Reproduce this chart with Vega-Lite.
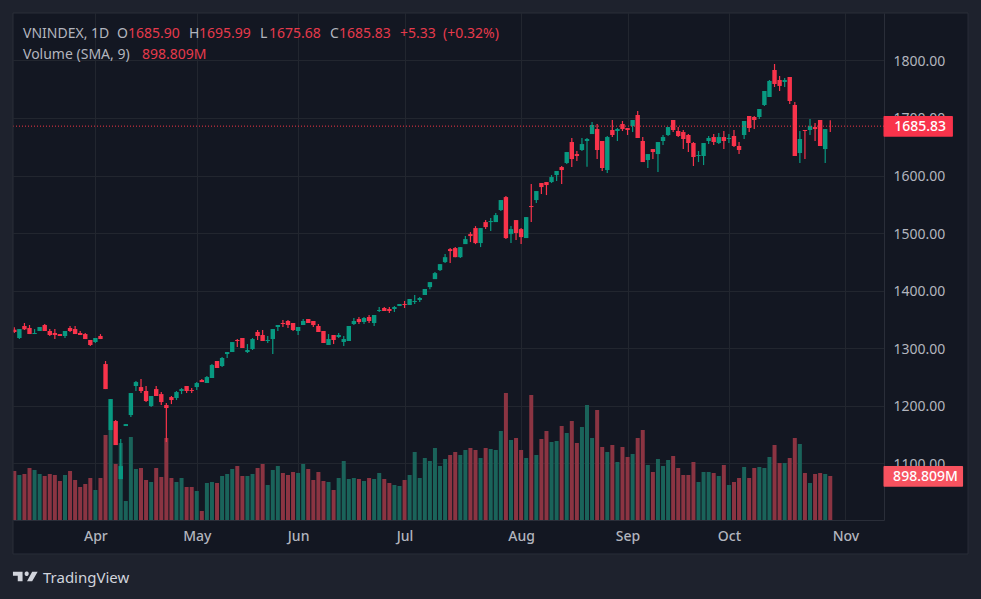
{"$schema":"https://vega.github.io/schema/vega-lite/v6.json","description":"VNINDEX daily candles with volume, TradingView style.","autosize":{"type":"none"},"padding":{"left":13,"top":13,"right":97,"bottom":79},"width":871,"height":507,"background":"#131722","config":{"view":{"stroke":null},"font":"Noto Sans","axis":{"labelFont":"Noto Sans","labelFontSize":14,"labelColor":"#b2b5be","gridColor":"#22262f","domainColor":"#2a2e39","ticks":false}},
"datasets":{"bars":[
{"i":0,"o":1331.9,"h":1335.9,"l":1326.1,"c":1327.8,"v":1029},{"i":1,"o":1317.4,"h":1333,"l":1315.6,"c":1333,"v":945},{"i":2,"o":1338.3,"h":1343.5,"l":1331.3,"c":1332.5,"v":966},{"i":3,"o":1334.8,"h":1340,"l":1324.3,"c":1324.3,"v":1092},{"i":4,"o":1324.3,"h":1333,"l":1324.3,"c":1326.1,"v":1050},{"i":5,"o":1329.6,"h":1336.5,"l":1329.6,"c":1336.5,"v":966},{"i":6,"o":1340,"h":1341.7,"l":1329.6,"c":1329.6,"v":924},{"i":7,"o":1329.6,"h":1333,"l":1320.9,"c":1322.6,"v":966},{"i":8,"o":1326.1,"h":1333,"l":1315.6,"c":1322.6,"v":945},{"i":9,"o":1324.3,"h":1324.3,"l":1320.9,"c":1320.9,"v":819},
{"i":10,"o":1320.9,"h":1329.6,"l":1317.4,"c":1329.6,"v":945},{"i":11,"o":1334.8,"h":1338.3,"l":1327.8,"c":1329.6,"v":1029},{"i":12,"o":1333,"h":1338.3,"l":1324.3,"c":1324.3,"v":840},{"i":13,"o":1326.1,"h":1329.6,"l":1322.6,"c":1322.6,"v":693},{"i":14,"o":1324.3,"h":1326.1,"l":1315.6,"c":1315.6,"v":756},{"i":15,"o":1313.9,"h":1313.9,"l":1303.5,"c":1305.2,"v":882},{"i":16,"o":1310.4,"h":1317.4,"l":1308.7,"c":1317.4,"v":630},{"i":17,"o":1320.9,"h":1324.3,"l":1315.6,"c":1315.6,"v":882},{"i":18,"o":1272.1,"h":1277.4,"l":1228.6,"c":1228.6,"v":1785},{"i":19,"o":1157.3,"h":1211.2,"l":1157.3,"c":1211.2,"v":1890},
{"i":20,"o":1173,"h":1174.7,"l":1131.2,"c":1131.2,"v":1176},{"i":21,"o":1072,"h":1141.6,"l":1072,"c":1094.7,"v":1617},{"i":22,"o":1164.3,"h":1167.7,"l":1164.3,"c":1167.7,"v":399},{"i":23,"o":1183.4,"h":1221.7,"l":1179.9,"c":1221.7,"v":1743},{"i":24,"o":1233.9,"h":1242.6,"l":1225.2,"c":1240.8,"v":1071},{"i":25,"o":1232.1,"h":1246,"l":1221.7,"c":1225.2,"v":1092},{"i":26,"o":1225.2,"h":1233.9,"l":1206,"c":1207.8,"v":840},{"i":27,"o":1199.1,"h":1216.5,"l":1197.3,"c":1216.5,"v":798},{"i":28,"o":1228.6,"h":1233.9,"l":1216.5,"c":1216.5,"v":1092},{"i":29,"o":1219.9,"h":1223.4,"l":1200.8,"c":1206,"v":903},
{"i":30,"o":1200.8,"h":1204.3,"l":1136.4,"c":1195.6,"v":1722},{"i":31,"o":1214.7,"h":1216.5,"l":1202.5,"c":1209.5,"v":882},{"i":32,"o":1213,"h":1225.2,"l":1209.5,"c":1223.4,"v":798},{"i":33,"o":1225.2,"h":1230.4,"l":1219.9,"c":1228.6,"v":882},{"i":34,"o":1233.9,"h":1233.9,"l":1221.7,"c":1225.2,"v":693},{"i":35,"o":1226.9,"h":1230.4,"l":1221.7,"c":1225.2,"v":693},{"i":36,"o":1232.1,"h":1240.8,"l":1226.9,"c":1239.1,"v":609},{"i":37,"o":1244.3,"h":1246,"l":1240.8,"c":1240.8,"v":189},{"i":38,"o":1239.1,"h":1251.3,"l":1239.1,"c":1249.5,"v":777},{"i":39,"o":1247.8,"h":1272.1,"l":1247.8,"c":1270.4,"v":798},
{"i":40,"o":1277.4,"h":1277.4,"l":1265.2,"c":1265.2,"v":777},{"i":41,"o":1268.7,"h":1284.3,"l":1266.9,"c":1282.6,"v":924},{"i":42,"o":1289.5,"h":1293,"l":1282.6,"c":1293,"v":966},{"i":43,"o":1293,"h":1310.4,"l":1293,"c":1310.4,"v":1071},{"i":44,"o":1313.9,"h":1315.6,"l":1301.7,"c":1312.2,"v":1134},{"i":45,"o":1317.4,"h":1317.4,"l":1300,"c":1300,"v":924},{"i":46,"o":1293,"h":1306.9,"l":1291.3,"c":1296.5,"v":924},{"i":47,"o":1298.2,"h":1317.4,"l":1296.5,"c":1315.6,"v":966},{"i":48,"o":1327.8,"h":1331.3,"l":1313.9,"c":1320.9,"v":1092},{"i":49,"o":1322.6,"h":1331.3,"l":1312.2,"c":1312.2,"v":1176},
{"i":50,"o":1312.2,"h":1320.9,"l":1308.7,"c":1313.9,"v":735},{"i":51,"o":1315.6,"h":1333,"l":1289.5,"c":1333,"v":1050},{"i":52,"o":1336.5,"h":1340,"l":1329.6,"c":1340,"v":1134},{"i":53,"o":1343.5,"h":1348.7,"l":1336.5,"c":1341.7,"v":987},{"i":54,"o":1347,"h":1348.7,"l":1334.8,"c":1340,"v":945},{"i":55,"o":1343.5,"h":1343.5,"l":1329.6,"c":1331.3,"v":1008},{"i":56,"o":1329.6,"h":1336.5,"l":1322.6,"c":1336.5,"v":987},{"i":57,"o":1340,"h":1350.4,"l":1340,"c":1347,"v":1176},{"i":58,"o":1350.4,"h":1350.4,"l":1343.5,"c":1343.5,"v":1071},{"i":59,"o":1347,"h":1347,"l":1336.5,"c":1340,"v":840},
{"i":60,"o":1338.3,"h":1341.7,"l":1327.8,"c":1327.8,"v":1008},{"i":61,"o":1329.6,"h":1329.6,"l":1308.7,"c":1308.7,"v":819},{"i":62,"o":1305.2,"h":1324.3,"l":1305.2,"c":1315.6,"v":798},{"i":63,"o":1322.6,"h":1322.6,"l":1306.9,"c":1313.9,"v":630},{"i":64,"o":1319.1,"h":1326.1,"l":1317.4,"c":1322.6,"v":882},{"i":65,"o":1310.4,"h":1320.9,"l":1303.5,"c":1315.6,"v":1239},{"i":66,"o":1312.2,"h":1338.3,"l":1312.2,"c":1338.3,"v":861},{"i":67,"o":1341.7,"h":1352.2,"l":1340,"c":1347,"v":882},{"i":68,"o":1350.4,"h":1353.9,"l":1341.7,"c":1345.2,"v":861},{"i":69,"o":1345.2,"h":1353.9,"l":1341.7,"c":1352.2,"v":819},
{"i":70,"o":1353.9,"h":1357.4,"l":1343.5,"c":1347,"v":882},{"i":71,"o":1343.5,"h":1357.4,"l":1338.3,"c":1357.4,"v":861},{"i":72,"o":1364.4,"h":1371.3,"l":1362.6,"c":1366.1,"v":987},{"i":73,"o":1369.6,"h":1371.3,"l":1364.4,"c":1364.4,"v":861},{"i":74,"o":1367.8,"h":1371.3,"l":1360.9,"c":1364.4,"v":777},{"i":75,"o":1367.8,"h":1373,"l":1362.6,"c":1371.3,"v":735},{"i":76,"o":1373,"h":1376.5,"l":1373,"c":1376.5,"v":714},{"i":77,"o":1376.5,"h":1381.8,"l":1369.6,"c":1374.8,"v":840},{"i":78,"o":1374.8,"h":1385.2,"l":1374.8,"c":1385.2,"v":945},{"i":79,"o":1380,"h":1392.2,"l":1376.5,"c":1381.8,"v":1428},
{"i":80,"o":1383.5,"h":1388.7,"l":1380,"c":1387,"v":882},{"i":81,"o":1392.2,"h":1402.6,"l":1392.2,"c":1402.6,"v":1302},{"i":82,"o":1405.9,"h":1414.6,"l":1402.4,"c":1414.6,"v":1239},{"i":83,"o":1419.8,"h":1432,"l":1419.8,"c":1430.3,"v":1512},{"i":84,"o":1435.5,"h":1445.9,"l":1433.8,"c":1445.9,"v":1134},{"i":85,"o":1449.4,"h":1463.3,"l":1447.7,"c":1458,"v":1281},{"i":86,"o":1472,"h":1473.8,"l":1447.7,"c":1468.6,"v":1365},{"i":87,"o":1473.8,"h":1475.5,"l":1458,"c":1458,"v":1428},{"i":88,"o":1458,"h":1475.5,"l":1456.4,"c":1475.5,"v":1365},{"i":89,"o":1480.7,"h":1494.7,"l":1480.7,"c":1489.4,"v":1470},
{"i":90,"o":1498.1,"h":1501.6,"l":1484.2,"c":1494.7,"v":1512},{"i":91,"o":1508.6,"h":1512,"l":1480.7,"c":1482.5,"v":1470},{"i":92,"o":1482.5,"h":1508.6,"l":1475.5,"c":1508.6,"v":1302},{"i":93,"o":1519,"h":1522.5,"l":1506.8,"c":1510.3,"v":1512},{"i":94,"o":1519,"h":1526,"l":1503.4,"c":1520.8,"v":1491},{"i":95,"o":1519,"h":1534.7,"l":1519,"c":1531.2,"v":1470},{"i":96,"o":1539.9,"h":1557.3,"l":1538.2,"c":1557.3,"v":1869},{"i":97,"o":1562.5,"h":1564.3,"l":1489.4,"c":1491.2,"v":2667},{"i":98,"o":1498.1,"h":1512,"l":1482.5,"c":1506.8,"v":1680},{"i":99,"o":1522.5,"h":1522.5,"l":1487.7,"c":1499.9,"v":1722},
{"i":100,"o":1506.8,"h":1508.6,"l":1480.7,"c":1492.9,"v":1470},{"i":101,"o":1491.2,"h":1527.7,"l":1491.2,"c":1527.7,"v":1302},{"i":102,"o":1546.9,"h":1585.1,"l":1519,"c":1545.1,"v":2625},{"i":103,"o":1557.3,"h":1573,"l":1552.1,"c":1573,"v":1365},{"i":104,"o":1586.9,"h":1586.9,"l":1567.8,"c":1579.9,"v":1701},{"i":105,"o":1588.6,"h":1588.6,"l":1566,"c":1583.4,"v":1869},{"i":106,"o":1588.6,"h":1600.8,"l":1586.9,"c":1597.3,"v":1638},{"i":107,"o":1600.8,"h":1607.8,"l":1590.4,"c":1607.8,"v":1659},{"i":108,"o":1614.7,"h":1616.5,"l":1585.1,"c":1609.5,"v":1974},{"i":109,"o":1621.7,"h":1640.8,"l":1619.9,"c":1640.8,"v":1827},
{"i":110,"o":1658.2,"h":1665.2,"l":1614.7,"c":1628.6,"v":2079},{"i":111,"o":1637.3,"h":1642.6,"l":1625.2,"c":1633.9,"v":1617},{"i":112,"o":1644.3,"h":1665.2,"l":1642.6,"c":1654.7,"v":1953},{"i":113,"o":1660,"h":1665.2,"l":1615.3,"c":1663.5,"v":2415},{"i":114,"o":1672.1,"h":1693,"l":1672.1,"c":1687.8,"v":1722},{"i":115,"o":1680.8,"h":1689.5,"l":1628.6,"c":1644.3,"v":2310},{"i":116,"o":1660,"h":1660,"l":1607.8,"c":1613,"v":1533},{"i":117,"o":1609.5,"h":1668.7,"l":1604.3,"c":1666.9,"v":1428},{"i":118,"o":1679.1,"h":1696.5,"l":1666.9,"c":1670.4,"v":1575},{"i":119,"o":1677.4,"h":1682.6,"l":1660,"c":1680.8,"v":1218},
{"i":120,"o":1689.5,"h":1694.8,"l":1677.4,"c":1680.8,"v":1533},{"i":121,"o":1682.6,"h":1682.6,"l":1670.4,"c":1679.1,"v":1323},{"i":122,"o":1686,"h":1696.5,"l":1675.6,"c":1696.5,"v":1386},{"i":123,"o":1705.2,"h":1712.2,"l":1665.2,"c":1665.2,"v":1722},{"i":124,"o":1660,"h":1666.9,"l":1623.4,"c":1623.4,"v":1890},{"i":125,"o":1626.9,"h":1637.3,"l":1613,"c":1637.3,"v":1155},{"i":126,"o":1646,"h":1646,"l":1628.6,"c":1640.8,"v":1008},{"i":127,"o":1637.3,"h":1658.2,"l":1606,"c":1658.2,"v":1281},{"i":128,"o":1660,"h":1670.4,"l":1653,"c":1666.9,"v":1134},{"i":129,"o":1670.4,"h":1684.3,"l":1668.7,"c":1684.3,"v":1260},
{"i":130,"o":1696.5,"h":1696.5,"l":1675.6,"c":1679.1,"v":1344},{"i":131,"o":1677.4,"h":1684.3,"l":1666.9,"c":1668.7,"v":1092},{"i":132,"o":1675.6,"h":1679.1,"l":1646,"c":1663.5,"v":945},{"i":133,"o":1670.4,"h":1672.1,"l":1640.8,"c":1656.5,"v":945},{"i":134,"o":1656.5,"h":1658.2,"l":1616.5,"c":1632.1,"v":1218},{"i":135,"o":1633.9,"h":1642.6,"l":1623.4,"c":1635.6,"v":798},{"i":136,"o":1633.9,"h":1656.5,"l":1618.2,"c":1656.5,"v":1008},{"i":137,"o":1660,"h":1668.7,"l":1654.7,"c":1665.2,"v":1008},{"i":138,"o":1666.9,"h":1672.1,"l":1653,"c":1658.2,"v":987},{"i":139,"o":1656.5,"h":1673.9,"l":1654.7,"c":1666.9,"v":924},
{"i":140,"o":1666.9,"h":1677.4,"l":1646,"c":1660,"v":1155},{"i":141,"o":1663.5,"h":1672.1,"l":1656.5,"c":1665.2,"v":735},{"i":142,"o":1668.7,"h":1679.1,"l":1649.5,"c":1651.3,"v":798},{"i":143,"o":1651.3,"h":1658.2,"l":1637.3,"c":1644.3,"v":882},{"i":144,"o":1670.4,"h":1694.8,"l":1663.5,"c":1694.8,"v":1113},{"i":145,"o":1703.5,"h":1703.5,"l":1675.6,"c":1682.6,"v":882},{"i":146,"o":1701.7,"h":1703.5,"l":1680.8,"c":1696.5,"v":1092},{"i":147,"o":1701.7,"h":1715.6,"l":1698.2,"c":1715.6,"v":1113},{"i":148,"o":1722.6,"h":1747,"l":1720.9,"c":1747,"v":1092},{"i":149,"o":1736.5,"h":1766.1,"l":1736.5,"c":1764.4,"v":1323},
{"i":150,"o":1783.5,"h":1793.9,"l":1753.9,"c":1759.1,"v":1575},{"i":151,"o":1766.1,"h":1773,"l":1747,"c":1755.7,"v":1197},{"i":152,"o":1762.6,"h":1769.6,"l":1753.9,"c":1766.1,"v":1197},{"i":153,"o":1771.3,"h":1771.3,"l":1724.3,"c":1729.6,"v":1302},{"i":154,"o":1722.6,"h":1727.8,"l":1633.9,"c":1633.9,"v":1722},{"i":155,"o":1639.1,"h":1677.4,"l":1621.7,"c":1663.5,"v":1596},{"i":156,"o":1679.1,"h":1679.1,"l":1628.6,"c":1677.4,"v":987},{"i":157,"o":1679.1,"h":1698.2,"l":1670.4,"c":1686,"v":777},{"i":158,"o":1684.3,"h":1691.3,"l":1660,"c":1680.8,"v":966},{"i":159,"o":1696.5,"h":1696.5,"l":1651.3,"c":1651.3,"v":987},
{"i":160,"o":1646,"h":1680.8,"l":1621.7,"c":1680.8,"v":966},{"i":161,"o":1685.9,"h":1695.99,"l":1675.68,"c":1685.83,"v":924}
],
"legend":[
{"label":"VNINDEX, 1D","at":1.72,"level":1846.1,"tone":"gray"},{"label":"O","at":20.26,"level":1846.1,"tone":"gray"},{"label":"1685.90","at":22.43,"level":1846.1,"tone":"red"},{"label":"H","at":34.47,"level":1846.1,"tone":"gray"},{"label":"1695.99","at":36.45,"level":1846.1,"tone":"red"},{"label":"L","at":48.48,"level":1846.1,"tone":"gray"},{"label":"1675.68","at":50.26,"level":1846.1,"tone":"red"},{"label":"C","at":62.3,"level":1846.1,"tone":"gray"},{"label":"1685.83","at":64.07,"level":1846.1,"tone":"red"},{"label":"+5.33","at":76.11,"level":1846.1,"tone":"red"},{"label":"(+0.32%)","at":84.6,"level":1846.1,"tone":"red"},{"label":"Volume (SMA, 9)","at":1.72,"level":1809.6,"tone":"gray"},{"label":"898.809M","at":25.2,"level":1809.6,"tone":"red"}],
"tags":[{"label":"1685.83","at":173.6,"level":1684.1},{"label":"898.809M","at":173.4,"level":1075.1}]},
"resolve":{"scale":{"y":"independent"}},
"layer":[
{"data":{"name":"bars"},"mark":{"type":"bar","orient":"vertical","size":4},"encoding":{"x":{"field":"i","type":"quantitative","scale":{"domain":[-0.257,171.6],"nice":false,"zero":false,"padding":0},"axis":{"title":null,"values":[16,36,56,77,100,121,141,164],"labelExpr":"datum.value==16?'Apr':datum.value==36?'May':datum.value==56?'Jun':datum.value==77?'Jul':datum.value==100?'Aug':datum.value==121?'Sep':datum.value==141?'Oct':'Nov'","grid":true,"labelPadding":9,"labelFontWeight":500,"labelFlush":false,"domain":true}},"y":{"field":"v","type":"quantitative","stack":null,"scale":{"domain":[0,10647],"nice":false},"axis":null},"color":{"condition":{"test":"datum.c>=datum.o","value":"#1a635a"},"value":"#8b3442"}}},
{"layer":[
{"data":{"name":"bars"},"mark":{"type":"rule","strokeWidth":1.2},"encoding":{"x":{"field":"i","type":"quantitative"},"y":{"field":"l","type":"quantitative","scale":{"domain":[1000.9,1882.6],"nice":false,"zero":false},"axis":{"title":null,"orient":"right","values":[1100,1200,1300,1400,1500,1600,1700,1800],"format":".2f","grid":true,"labelPadding":9,"labelAlign":"left","labelOffset":1,"domain":true}},"y2":{"field":"h"},"color":{"condition":{"test":"datum.c>=datum.o","value":"#089981"},"value":"#f9334b"}}},
{"data":{"name":"bars"},"mark":{"type":"bar","orient":"vertical","size":4.4},"encoding":{"x":{"field":"i","type":"quantitative"},"y":{"field":"o","type":"quantitative"},"y2":{"field":"c"},"color":{"condition":{"test":"datum.c>=datum.o","value":"#089981"},"value":"#f9334b"}}},
{"data":{"values":[{}]},"mark":{"type":"rule","stroke":"#f23645","strokeWidth":1,"strokeDash":[1,2]},"encoding":{"x":{"datum":-0.257},"x2":{"datum":171.6},"y":{"datum":1685.83}}},
{"data":{"values":[{}]},"mark":{"type":"rect","color":"#f9334b","cornerRadius":1},"encoding":{"x":{"datum":171.5},"x2":{"datum":185.2},"y":{"datum":1703.5},"y2":{"datum":1667.5}}},
{"data":{"values":[{}]},"mark":{"type":"rect","color":"#f7525f","cornerRadius":1},"encoding":{"x":{"datum":171.5},"x2":{"datum":187.2},"y":{"datum":1094.8},"y2":{"datum":1058.8}}},
{"data":{"name":"tags"},"mark":{"type":"text","align":"left","baseline":"middle","color":"#ffffff","font":"Noto Sans","fontSize":14,"fontWeight":500},"encoding":{"x":{"field":"at","type":"quantitative"},"y":{"field":"level","type":"quantitative"},"text":{"field":"label"}}},
{"data":{"values":[{}]},"mark":{"type":"rect","color":"#1e222d"},"encoding":{"x":{"datum":-2.83},"x2":{"datum":-0.257},"y":{"datum":1905.3},"y2":{"datum":863.5}}},
{"data":{"values":[{}]},"mark":{"type":"rect","color":"#1e222d"},"encoding":{"x":{"datum":188.18},"x2":{"datum":190.8},"y":{"datum":1905.3},"y2":{"datum":863.5}}},
{"data":{"values":[{}]},"mark":{"type":"rect","color":"#1e222d"},"encoding":{"x":{"datum":-2.83},"x2":{"datum":190.8},"y":{"datum":1905.3},"y2":{"datum":1882.6}}},
{"data":{"values":[{}]},"mark":{"type":"rect","color":"#1e222d"},"encoding":{"x":{"datum":-2.83},"x2":{"datum":190.8},"y":{"datum":941.8},"y2":{"datum":863.5}}},
{"data":{"values":[{}]},"mark":{"type":"rect","fillOpacity":0,"stroke":"#2a2e39","strokeWidth":1},"encoding":{"x":{"datum":-0.257},"x2":{"datum":188.18},"y":{"datum":1882.6},"y2":{"datum":941.8}}},
{"data":{"name":"legend"},"mark":{"type":"text","align":"left","baseline":"middle","font":"Noto Sans","fontSize":14},"encoding":{"x":{"field":"at","type":"quantitative"},"y":{"field":"level","type":"quantitative"},"text":{"field":"label"},"color":{"condition":{"test":"datum.tone=='red'","value":"#e63a4c"},"value":"#b2b5be"}}},
{"data":{"values":[{}]},"mark":{"type":"point","filled":true,"opacity":1,"color":"#d1d4dc","size":610,"shape":"M-0.222 -0.389 L-1 -0.389 L-1 -0.056 L-0.611 -0.056 L-0.611 0.389 L-0.222 0.389 Z M0.139 0.389 L0.556 -0.389 L1 -0.389 L0.556 0.389 Z M-0.056 -0.222 a0.167 0.167 0 1 0 0.333 0 a0.167 0.167 0 1 0 -0.333 0 Z"},"encoding":{"x":{"datum":2.17},"y":{"datum":902.6}}},
{"data":{"values":[{"label":"TradingView"}]},"mark":{"type":"text","align":"left","baseline":"middle","font":"Noto Sans","fontSize":15,"color":"#d1d4dc"},"encoding":{"x":{"datum":5.66},"y":{"datum":900},"text":{"field":"label"}}}
]}
]}
